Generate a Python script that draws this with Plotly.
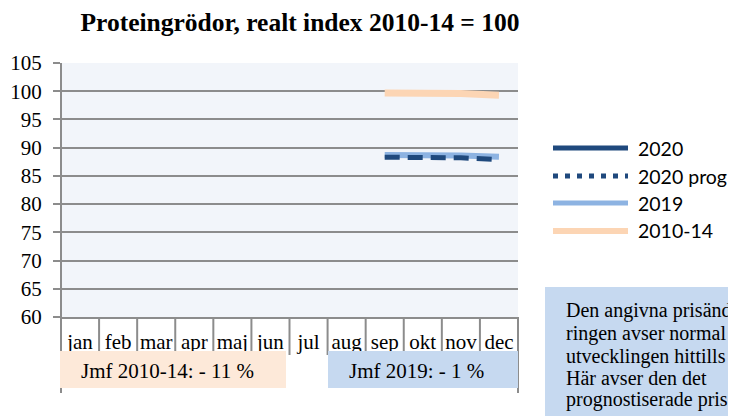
import plotly.graph_objects as go

months = ["jan", "feb", "mar", "apr", "maj", "jun", "jul", "aug", "sep", "okt", "nov", "dec"]
s2020 = [None, None, None, None, None, None, None, None, 88.3, None, None, None]
s2020_prog = [None, None, None, None, None, None, None, None, 88.3, 88.3, 88.2, 87.9]
s2019 = [None, None, None, None, None, None, None, None, 88.7, 88.7, 88.6, 88.4]
s2010_14 = [None, None, None, None, None, None, None, None, 99.7, 99.7, 99.6, 99.3]

series_names = ["2020", "2020 prog", "2019", "2010-14"]
title_text = "Proteingrödor, realt index 2010-14 = 100"
cmp_2010 = "Jmf 2010-14: - 11 %"
cmp_2019 = "Jmf 2019: - 1 %"
note_lines = ["Den angivna prisänd-", "ringen avser normal", "utvecklingen hittills", "Här avser den det", "prognostiserade priset"]

C2020 = "#1f497d"
C2019 = "#8db3e2"
C1014 = "#fcd5b4"
GRID = "#8c8c8c"
SERIF = "Liberation Serif"
SANS = "Lato"

fig = go.Figure()
fig.add_trace(go.Scatter(x=months, y=s2010_14, name=series_names[3], mode="lines",
                         line=dict(color=C1014, width=7), showlegend=False))
fig.add_trace(go.Scatter(x=months, y=s2019, name=series_names[2], mode="lines",
                         line=dict(color=C2019, width=6), showlegend=False))
fig.add_trace(go.Scatter(x=months, y=s2020_prog, name=series_names[1], mode="lines",
                         line=dict(color=C2020, width=5, dash="15px,8px"), showlegend=False))
fig.add_trace(go.Scatter(x=months, y=s2020, name=series_names[0], mode="lines",
                         line=dict(color=C2020, width=5), showlegend=False))

OFF = 8  # page body margin
W, H = 736, 416
SL, SR, ST, SB = 61, 518, 63, 317
L, T = SL - OFF, ST - OFF
R = W - (SR - OFF)
B = H - (SB - OFF)
PW, PH = SR - SL, SB - ST

def px2x(px):
    return (px - SL) / PW

def py2y(py):
    return (SB - py) / PH

shapes = []
for i in range(13):
    shapes.append(dict(type="line", xref="x domain", yref="y domain", x0=i / 12, x1=i / 12,
                       y0=0, y1=py2y(355), line=dict(color=GRID, width=2), layer="below"))
shapes.append(dict(type="line", xref="x domain", yref="y domain", x0=0, x1=0, y0=1, y1=py2y(393),
                   line=dict(color=GRID, width=2)))
shapes.append(dict(type="line", xref="x domain", yref="y domain", x0=1, x1=1, y0=0, y1=py2y(393),
                   line=dict(color=GRID, width=2)))
shapes.append(dict(type="rect", xref="paper", yref="paper", x0=px2x(60), x1=px2x(286),
                   y0=py2y(388), y1=py2y(351), fillcolor="#fde9d9", line=dict(width=0)))
shapes.append(dict(type="rect", xref="paper", yref="paper", x0=px2x(328), x1=px2x(518),
                   y0=py2y(388), y1=py2y(351), fillcolor="#c6d9f0", line=dict(width=0)))
shapes.append(dict(type="rect", xref="paper", yref="paper", x0=px2x(545), x1=px2x(800),
                   y0=py2y(450), y1=py2y(287), fillcolor="#c6d9f0", line=dict(width=0)))

leg_y = [148, 176, 203, 231]
leg_style = [dict(color=C2020, width=5), dict(color=C2020, width=5, dash="5px,7px"),
             dict(color=C2019, width=5), dict(color=C1014, width=6)]
annotations = []
for name, yy, st in zip(series_names, leg_y, leg_style):
    shapes.append(dict(type="line", xref="paper", yref="paper", x0=px2x(553), x1=px2x(628),
                       y0=py2y(yy), y1=py2y(yy), line=st))
    annotations.append(dict(xref="paper", yref="paper", x=px2x(636), y=py2y(yy), text=name,
                            showarrow=False, xanchor="left", yanchor="middle",
                            font=dict(family=SANS, size=19.5, color="#000000")))

annotations.append(dict(xref="paper", yref="paper", x=px2x(167), y=py2y(371), text=cmp_2010,
                        showarrow=False, xanchor="center", yanchor="middle",
                        font=dict(family=SERIF, size=21, color="#000000")))
annotations.append(dict(xref="paper", yref="paper", x=px2x(416), y=py2y(371), text=cmp_2019,
                        showarrow=False, xanchor="center", yanchor="middle",
                        font=dict(family=SERIF, size=21, color="#000000")))
note_y = [310, 333, 356, 378, 400]
for line, yy in zip(note_lines, note_y):
    annotations.append(dict(xref="paper", yref="paper", x=px2x(564), y=py2y(yy), text=line,
                            showarrow=False, xanchor="left", yanchor="middle", align="left",
                            font=dict(family=SERIF, size=20, color="#000000")))

fig.update_layout(
    width=W, height=H,
    margin=dict(l=L, r=R, t=T, b=B, autoexpand=False),
    paper_bgcolor="white",
    plot_bgcolor="#f2f5fa",
    title=dict(text="<b>" + title_text + "</b>", xref="container", yref="container",
               x=(300 - OFF) / W, y=1 - (22 - OFF) / H, xanchor="center", yanchor="middle",
               font=dict(family=SERIF, size=25.5, color="#000000")),
    xaxis=dict(type="category", categoryorder="array", categoryarray=months,
               range=[-0.5, 11.5], showgrid=False, ticks="", showline=True,
               linecolor=GRID, linewidth=2, automargin=False,
               tickfont=dict(family=SERIF, size=21, color="#000000"),
               ticklabelstandoff=5),
    yaxis=dict(range=[60, 105], dtick=5, tick0=60, showgrid=True, gridcolor=GRID, gridwidth=2,
               ticks="outside", ticklen=7, tickcolor=GRID, tickwidth=2, showline=False,
               zeroline=False, automargin=False,
               tickfont=dict(family=SERIF, size=21, color="#000000"),
               ticklabelstandoff=7),
    shapes=shapes,
    annotations=annotations,
    showlegend=False,
)

fig.write_html("out.html")
